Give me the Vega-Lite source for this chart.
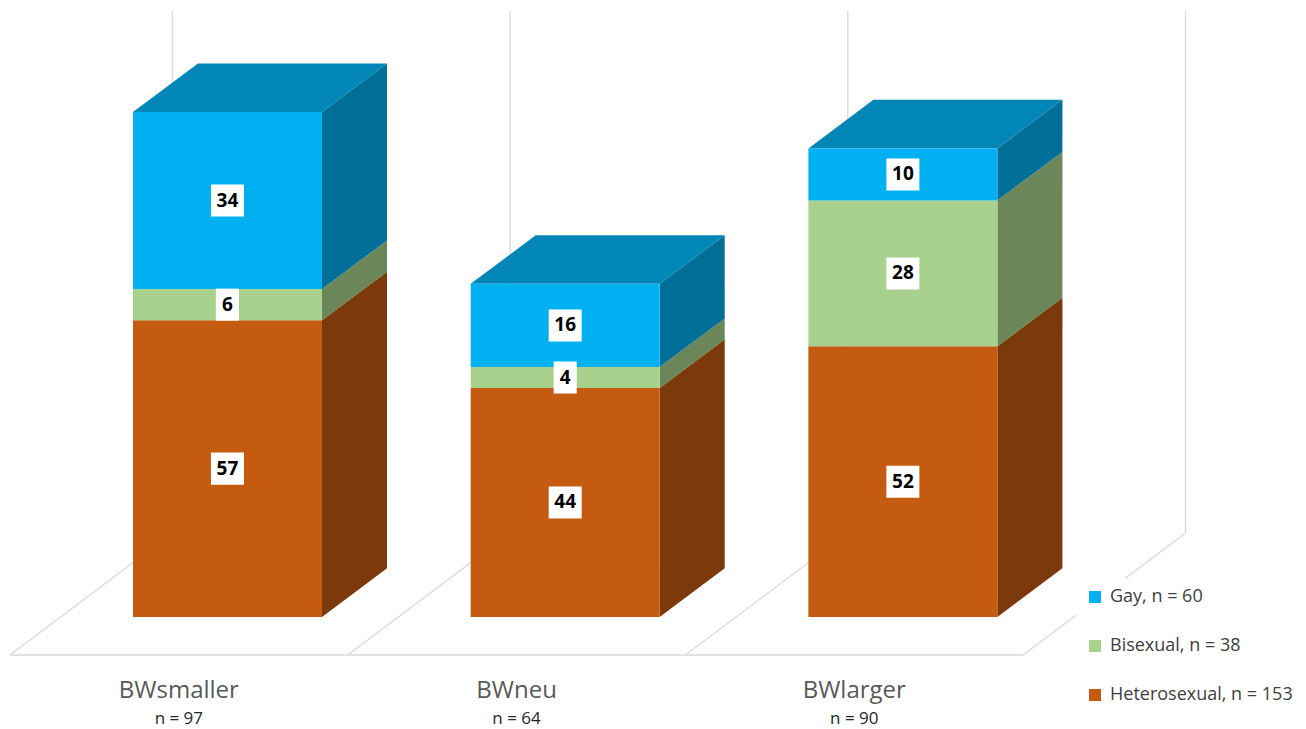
{
  "$schema": "https://vega.github.io/schema/vega-lite/v6.json",
  "width": 1306,
  "height": 729,
  "autosize": {"type": "none"},
  "padding": 0,
  "background": "white",
  "config": {"view": {"stroke": null}, "font": "Open Sans"},
  "data": {
    "values": [
      {"group": "BWsmaller", "cat": "Heterosexual", "value": 57},
      {"group": "BWsmaller", "cat": "Bisexual", "value": 6},
      {"group": "BWsmaller", "cat": "Gay", "value": 34},
      {"group": "BWneu", "cat": "Heterosexual", "value": 44},
      {"group": "BWneu", "cat": "Bisexual", "value": 4},
      {"group": "BWneu", "cat": "Gay", "value": 16},
      {"group": "BWlarger", "cat": "Heterosexual", "value": 52},
      {"group": "BWlarger", "cat": "Bisexual", "value": 28},
      {"group": "BWlarger", "cat": "Gay", "value": 10}
    ]
  },
  "transform": [
    {"calculate": "indexof(['BWsmaller','BWneu','BWlarger'], datum.group)", "as": "gi"},
    {"calculate": "indexof(['Heterosexual','Bisexual','Gay'], datum.cat)", "as": "ci"},
    {"stack": "value", "groupby": ["group"], "sort": [{"field": "ci", "order": "ascending"}], "as": ["v0", "v1"]},
    {"joinaggregate": [{"op": "sum", "field": "value", "as": "groupTotal"}], "groupby": ["group"]},
    {"joinaggregate": [{"op": "sum", "field": "value", "as": "catTotal"}], "groupby": ["cat"]},
    {"calculate": "datum.cat + ', n = ' + datum.catTotal", "as": "series"}
  ],
  "layer": [
    {
      "transform": [
        {"filter": "datum.ci == 0"},
        {"calculate": "datum.gi", "as": "fx0"},
        {"calculate": "datum.gi + 1", "as": "fx1"},
        {"calculate": "-7.3", "as": "fy"}
      ],
      "mark": {"type": "rule", "stroke": "#D9D9D9", "strokeWidth": 1.3},
      "encoding": {
        "x": {"field": "fx0", "type": "quantitative", "axis": null, "scale": {"domain": [-0.02961, 3.83773], "nice": false, "zero": false}},
        "x2": {"field": "fx1"},
        "y": {"field": "fy", "type": "quantitative", "axis": null, "scale": {"domain": [-21.514, 118.517], "nice": false, "zero": false}}
      }
    },
    {
      "transform": [
        {"filter": "datum.ci == 0"},
        {"calculate": "datum.gi == 2 ? [0, 1] : [0]", "as": "e"},
        {"flatten": ["e"]},
        {"calculate": "datum.gi + datum.e", "as": "b"},
        {"calculate": "datum.b + 0.481", "as": "bw"},
        {"calculate": "-7.3", "as": "fy"},
        {"calculate": "16.13", "as": "by"},
        {"calculate": "116.4", "as": "ty"}
      ],
      "layer": [
        {
          "mark": {"type": "rule", "stroke": "#D9D9D9", "strokeWidth": 1.3},
          "encoding": {
            "x": {"field": "b", "type": "quantitative", "axis": null, "scale": {"domain": [-0.02961, 3.83773], "nice": false, "zero": false}},
            "x2": {"field": "bw"},
            "y": {"field": "fy", "type": "quantitative", "axis": null, "scale": {"domain": [-21.514, 118.517], "nice": false, "zero": false}},
            "y2": {"field": "by"}
          }
        },
        {
          "mark": {"type": "rule", "stroke": "#D9D9D9", "strokeWidth": 1.3},
          "encoding": {
            "x": {"field": "bw", "type": "quantitative", "axis": null, "scale": {"domain": [-0.02961, 3.83773], "nice": false, "zero": false}},
            "y": {"field": "by", "type": "quantitative", "axis": null, "scale": {"domain": [-21.514, 118.517], "nice": false, "zero": false}},
            "y2": {"field": "ty"}
          }
        }
      ]
    },
    {
      "transform": [
        {"calculate": "[0, 1]", "as": "s"},
        {"flatten": ["s"]},
        {"calculate": "datum.gi + 0.9239 + datum.s * 0.1925", "as": "sx"},
        {"calculate": "datum.v0 + datum.s * 9.34", "as": "sy0"},
        {"calculate": "datum.v1 + datum.s * 9.34", "as": "sy1"}
      ],
      "mark": {"type": "area", "orient": "vertical", "opacity": 1},
      "encoding": {
        "x": {"field": "sx", "type": "quantitative", "axis": null, "scale": {"domain": [-0.02961, 3.83773], "nice": false, "zero": false}},
        "y": {"field": "sy1", "type": "quantitative", "stack": null, "axis": null, "scale": {"domain": [-21.514, 118.517], "nice": false, "zero": false}},
        "y2": {"field": "sy0"},
        "detail": [{"field": "group"}, {"field": "cat"}],
        "fill": {
          "condition": [
            {"test": "datum.cat == 'Gay'", "value": "#006F98"},
            {"test": "datum.cat == 'Bisexual'", "value": "#6B8759"}
          ],
          "value": "#7C390B"
        }
      }
    },
    {
      "transform": [
        {"filter": "datum.v1 == datum.groupTotal"},
        {"calculate": "[0, 1]", "as": "s"},
        {"flatten": ["s"]},
        {"calculate": "datum.gi + 0.3642 + datum.s * 0.1925", "as": "tx0"},
        {"calculate": "datum.gi + 0.9239 + datum.s * 0.1925", "as": "tx1"},
        {"calculate": "datum.v1 + datum.s * 9.34", "as": "ty"}
      ],
      "mark": {"type": "area", "orient": "horizontal", "opacity": 1},
      "encoding": {
        "y": {"field": "ty", "type": "quantitative", "axis": null, "scale": {"domain": [-21.514, 118.517], "nice": false, "zero": false}},
        "x": {"field": "tx0", "type": "quantitative", "stack": null, "axis": null, "scale": {"domain": [-0.02961, 3.83773], "nice": false, "zero": false}},
        "x2": {"field": "tx1"},
        "detail": {"field": "group"},
        "fill": {
          "condition": [
            {"test": "datum.cat == 'Gay'", "value": "#0087B8"},
            {"test": "datum.cat == 'Bisexual'", "value": "#82A16D"}
          ],
          "value": "#97450D"
        }
      }
    },
    {
      "transform": [
        {"calculate": "datum.gi + 0.3642", "as": "xL"},
        {"calculate": "datum.gi + 0.9239", "as": "xR"}
      ],
      "mark": {"type": "rect"},
      "encoding": {
        "x": {"field": "xL", "type": "quantitative", "axis": null, "scale": {"domain": [-0.02961, 3.83773], "nice": false, "zero": false}},
        "x2": {"field": "xR"},
        "y": {"field": "v0", "type": "quantitative", "axis": null, "scale": {"domain": [-21.514, 118.517], "nice": false, "zero": false}},
        "y2": {"field": "v1"},
        "color": {
          "field": "series",
          "type": "nominal",
          "scale": {
            "domain": ["Gay, n = 60", "Bisexual, n = 38", "Heterosexual, n = 153"],
            "range": ["#00B0F0", "#A9D18E", "#C55A11"]
          },
          "legend": {
            "title": null,
            "orient": "none",
            "legendX": 1076,
            "legendY": 578,
            "direction": "vertical",
            "padding": 10,
            "fillColor": "white",
            "symbolType": "square",
            "symbolSize": 144,
            "symbolStrokeWidth": 0,
            "labelFont": "Open Sans",
            "labelFontSize": 18,
            "labelColor": "#404040",
            "labelOffset": 6,
            "labelLimit": 0,
            "rowPadding": 31
          }
        }
      }
    },
    {
      "transform": [
        {"calculate": "datum.gi + 0.644", "as": "lx"},
        {"calculate": "(datum.v0 + datum.v1) / 2", "as": "ly"}
      ],
      "layer": [
        {
          "mark": {"type": "point", "filled": true, "opacity": 1, "color": "white", "strokeWidth": 0},
          "encoding": {
            "x": {"field": "lx", "type": "quantitative", "axis": null, "scale": {"domain": [-0.02961, 3.83773], "nice": false, "zero": false}},
            "y": {"field": "ly", "type": "quantitative", "axis": null, "scale": {"domain": [-21.514, 118.517], "nice": false, "zero": false}},
            "size": {"value": 1089},
            "shape": {
              "condition": {"test": "datum.value >= 10", "value": "M-1,-0.97H1V0.97H-1Z"},
              "value": "M-0.7,-0.97H0.7V0.97H-0.7Z"
            }
          }
        },
        {
          "mark": {"type": "text", "font": "Open Sans", "fontWeight": "bold", "fontSize": 19, "color": "black", "align": "center", "baseline": "middle"},
          "encoding": {
            "x": {"field": "lx", "type": "quantitative", "axis": null, "scale": {"domain": [-0.02961, 3.83773], "nice": false, "zero": false}},
            "y": {"field": "ly", "type": "quantitative", "axis": null, "scale": {"domain": [-21.514, 118.517], "nice": false, "zero": false}},
            "text": {"field": "value", "type": "quantitative"}
          }
        }
      ]
    },
    {
      "transform": [
        {"filter": "datum.ci == 0"},
        {"calculate": "datum.gi + 0.5", "as": "cx"},
        {"calculate": "-14.21", "as": "ny"},
        {"calculate": "-19.59", "as": "my"},
        {"calculate": "'n = ' + datum.groupTotal", "as": "nlabel"}
      ],
      "layer": [
        {
          "mark": {"type": "text", "font": "Open Sans", "fontSize": 24, "color": "#595959", "align": "center", "baseline": "middle"},
          "encoding": {
            "x": {"field": "cx", "type": "quantitative", "axis": null, "scale": {"domain": [-0.02961, 3.83773], "nice": false, "zero": false}},
            "y": {"field": "ny", "type": "quantitative", "axis": null, "scale": {"domain": [-21.514, 118.517], "nice": false, "zero": false}},
            "text": {"field": "group"}
          }
        },
        {
          "mark": {"type": "text", "font": "Open Sans", "fontSize": 17, "color": "#262626", "align": "center", "baseline": "middle"},
          "encoding": {
            "x": {"field": "cx", "type": "quantitative", "axis": null, "scale": {"domain": [-0.02961, 3.83773], "nice": false, "zero": false}},
            "y": {"field": "my", "type": "quantitative", "axis": null, "scale": {"domain": [-21.514, 118.517], "nice": false, "zero": false}},
            "text": {"field": "nlabel"}
          }
        }
      ]
    }
  ]
}
